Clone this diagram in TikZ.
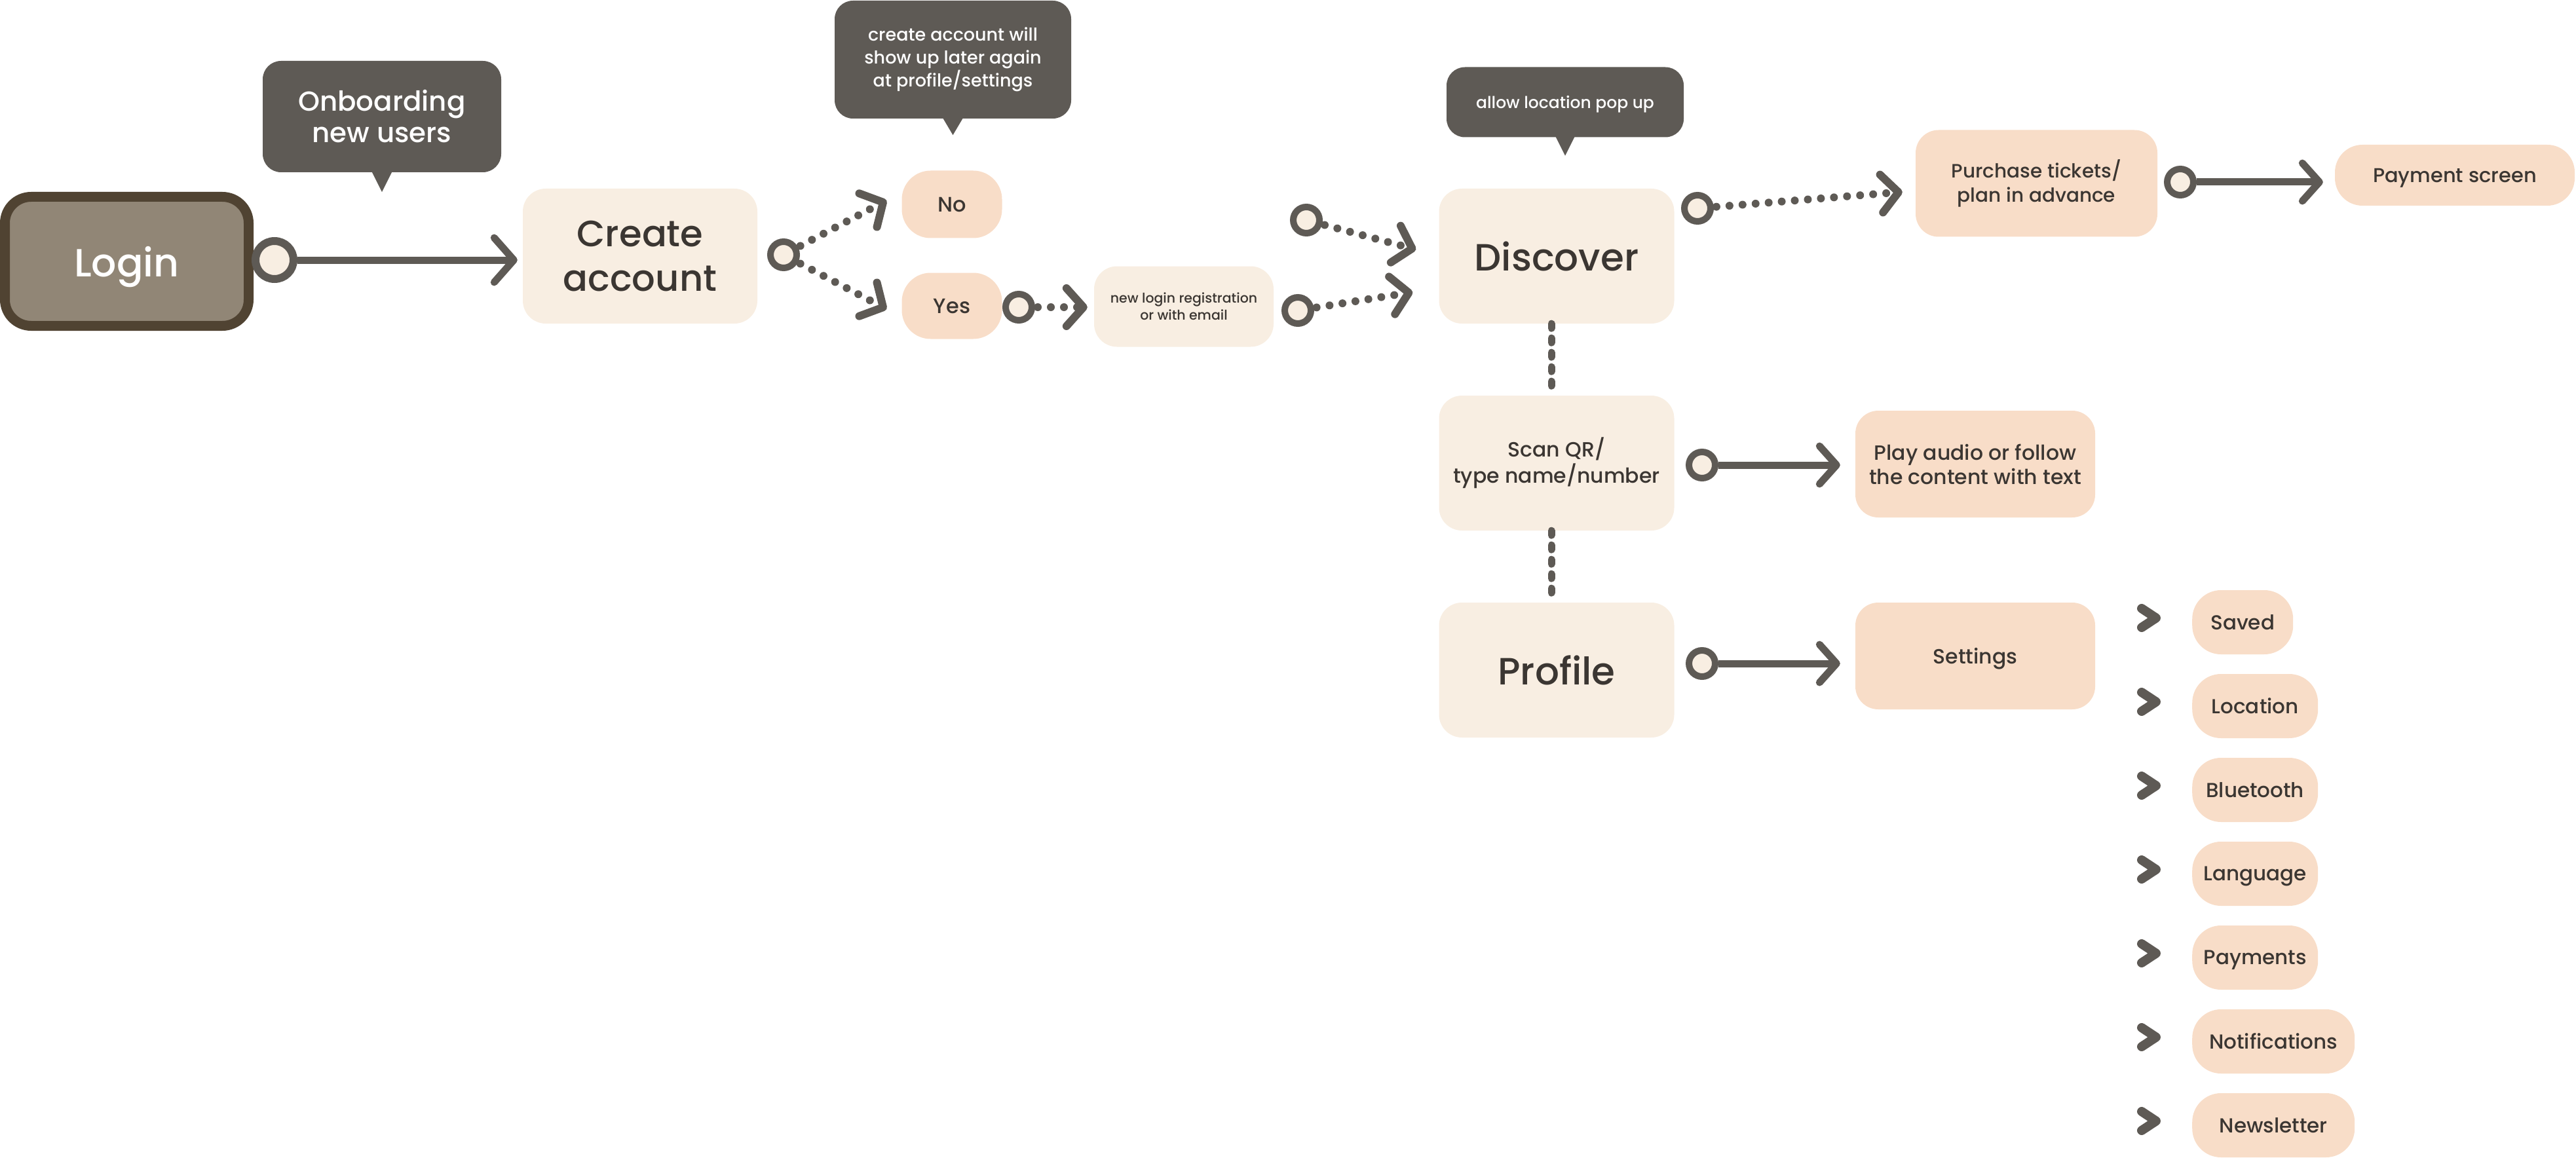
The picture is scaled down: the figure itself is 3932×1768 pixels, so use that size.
\documentclass[tikz,border=0pt]{standalone}
\usepackage{fontspec}
\setmainfont{Poppins}[UprightFont={* Medium}]
\usetikzlibrary{arrows.meta,calc}
\definecolor{cream}{HTML}{F8EEE2}
\definecolor{peach}{HTML}{F8DDC8}
\definecolor{bubblec}{HTML}{5E5A55}
\definecolor{linec}{HTML}{5E5A55}
\definecolor{loginfill}{HTML}{918676}
\definecolor{loginborder}{HTML}{504332}
\definecolor{txt}{HTML}{3B3632}
\newcommand\myfs[2]{\fontsize{#1}{#2}\selectfont}
\tikzset{
  box/.style={rectangle, rounded corners=35pt, inner sep=0pt, text=txt, align=center},
  creambox/.style={box, fill=cream},
  peachbox/.style={box, fill=peach},
  pillbox/.style={box, fill=peach, rounded corners=44pt},
  oneline/.style={text depth=0pt},
  bubblebox/.style={rectangle, rounded corners=28pt, fill=bubblec, text=white, align=center, inner sep=0pt},
  circ/.style={circle, draw=linec, fill=cream, line width=10pt, minimum size=40pt, inner sep=0pt},
  bigcirc/.style={circ, line width=12pt, minimum size=58pt},
  chev/.tip={Straight Barb[length=26pt, width=58pt, round]},
  bigchev/.tip={Straight Barb[length=30pt, width=68pt, round]},
  solidlink/.style={draw=linec, line width=11pt, -chev},
  dotlink/.style={draw=linec, line width=12pt, line cap=round, dash pattern=on 0pt off 20pt, -chev},
  vdash/.style={draw=linec, line width=11pt, line cap=round, dash pattern=on 7pt off 15pt},
  listchev/.style={draw=linec, line width=14pt, line cap=round, line join=round},
}
\begin{document}
\begin{tikzpicture}[x=1pt,y=-1pt]
\useasboundingbox (0,0) rectangle (3932,1768);

% Login
\node[rectangle, rounded corners=40pt, fill=loginfill, draw=loginborder, line width=15pt,
      minimum width=372pt, minimum height=197pt, text=white, inner sep=0pt, oneline, font=\myfs{60}{66}]
      (login) at (193.5,399) {Login};
\node[bigcirc] (c1) at (419,397) {};

% Onboarding bubble
\node[bubblebox, minimum width=364pt, minimum height=170pt, font=\myfs{42}{48}] (bub1) at (583,178)
      {Onboarding\\new users};
\fill[bubblec] ([shift={(-16,-2)}]bub1.south) -- ([shift={(0,30)}]bub1.south) -- ([shift={(16,-2)}]bub1.south) -- cycle;

% Create account
\node[creambox, minimum width=358pt, minimum height=206pt, font=\myfs{56}{68}] (create) at (977,391)
      {Create\\account};
\draw[solidlink, -bigchev, shorten >=8pt] (c1) -- (c1 -| create.west);
\node[circ] (c2) at (1196,389) {};

% create account bubble
\node[bubblebox, minimum width=361pt, minimum height=180pt, font=\myfs{27}{35}] (bub2) at (1454.5,91)
      {create account will\\show up later again\\at profile/settings};
\fill[bubblec] ([shift={(-16,-2)}]bub2.south) -- ([shift={(0,25)}]bub2.south) -- ([shift={(16,-2)}]bub2.south) -- cycle;

% No / Yes
\node[pillbox, minimum width=153pt, minimum height=103pt, oneline, font=\myfs{32}{36}] (no) at (1453,312) {No};
\node[pillbox, minimum width=153pt, minimum height=101pt, oneline, font=\myfs{32}{36}] (yes) at (1453,467) {Yes};
\draw[dotlink, shorten <=4pt] (c2) -- ([shift={(-23,-6)}]no.west);
\draw[dotlink, shorten <=4pt] (c2) -- ([shift={(-23,5)}]yes.west);

% new login registration
\node[circ] (c3) at (1555,469) {};
\node[creambox, minimum width=274pt, minimum height=123pt, font=\myfs{20.5}{26}] (newlogin) at (1807,468)
      {new login registration\\or with email};
\draw[dotlink, shorten <=4pt, shorten >=10pt] (c3) -- (c3 -| newlogin.west);

% Discover
\node[creambox, minimum width=359pt, minimum height=206pt, oneline, font=\myfs{58}{64}] (discover) at (2376,391)
      {Discover};
\node[circ] (c4) at (1994,336) {};
\node[circ] (c5) at (1981,474) {};
\draw[dotlink, shorten <=4pt] (c4) -- ([shift={(-35,-10)}]discover.west);
\draw[dotlink, shorten <=4pt] (c5) -- ([shift={(-40,55)}]discover.west);

% allow location bubble
\node[bubblebox, minimum width=362pt, minimum height=107pt, oneline, font=\myfs{25}{30}] (bub3) at (2389,156)
      {allow location pop up};
\fill[bubblec] ([shift={(-15,-2)}]bub3.south) -- ([shift={(0,28)}]bub3.south) -- ([shift={(15,-2)}]bub3.south) -- cycle;

% Purchase / Payment
\node[peachbox, minimum width=369pt, minimum height=163pt, font=\myfs{29.5}{37}] (purchase) at (3108.5,280)
      {Purchase tickets/\\plan in advance};
\node[circ] (c6) at (2591,318) {};
\draw[dotlink, shorten <=4pt] (c6) -- ([shift={(-20,13)}]purchase.west);
\node[peachbox, rounded corners=42pt, minimum width=366pt, minimum height=93pt, oneline, font=\myfs{30.5}{36}] (payment) at (3747,267.5)
      {Payment screen};
\node[circ] (c7) at (3328,278) {};
\draw[solidlink, shorten >=18pt] (c7) -- (c7 -| payment.west);

% Scan QR
\node[creambox, minimum width=359pt, minimum height=206pt, font=\myfs{31.5}{40}] (scan) at (2376,707)
      {Scan QR/\\type name/number};
\draw[vdash] ([shift={(-8,0)}]discover.south) -- ([shift={(-8,0)}]scan.north);
\node[circ] (c8) at (2598,710) {};
\node[peachbox, minimum width=366pt, minimum height=163pt, font=\myfs{31.5}{37}] (play) at (3015,708.5)
      {Play audio or follow\\the content with text};
\draw[solidlink, shorten >=23pt] (c8) -- (c8 -| play.west);

% Profile
\node[creambox, minimum width=359pt, minimum height=206pt, oneline, font=\myfs{58}{64}] (profile) at (2376,1023)
      {Profile};
\draw[vdash] ([shift={(-8,0)}]scan.south) -- ([shift={(-8,0)}]profile.north);
\node[circ] (c9) at (2598,1013) {};
\node[peachbox, minimum width=366pt, minimum height=163pt, oneline, font=\myfs{31.5}{36}] (settings) at (3015,1001.5)
      {Settings};
\draw[solidlink, shorten >=23pt] (c9) -- (c9 -| settings.west);

% Settings list
\foreach \name/\lab/\w [count=\i from 0] in {saved/Saved/154, location/Location/192, bluetooth/Bluetooth/192,
    language/Language/192, payments/Payments/192, notif/Notifications/248, news/Newsletter/248}{
  \node[pillbox, minimum width=\w pt, minimum height=98pt, anchor=west, oneline, font=\myfs{31}{36}] (\name) at (3346,950+128*\i)
      {\lab};
  \draw[listchev] ([shift={(-77,-21)}]\name.west) -- ([shift={(-55,-6.5)}]\name.west) -- ([shift={(-77,8)}]\name.west);
}
\end{tikzpicture}
\end{document}
